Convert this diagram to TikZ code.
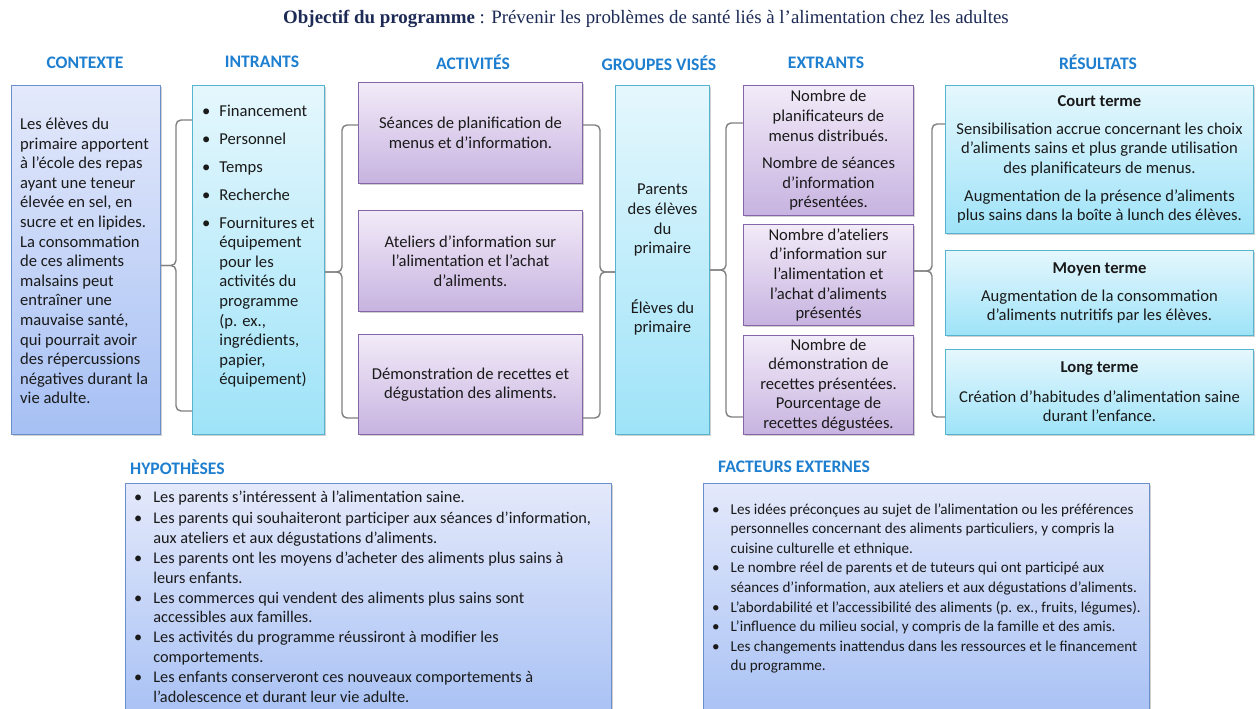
\documentclass[tikz,border=0pt]{standalone}
\usepackage{fontspec}
\setmainfont{Carlito}
\newfontfamily\titlefont{Liberation Serif}
\usetikzlibrary{shadows}
\definecolor{hdrblue}{HTML}{1E7FD0}
\definecolor{txt}{HTML}{1A1A1A}
\definecolor{titlecol}{HTML}{1C2A55}
\definecolor{bluetop}{HTML}{E4E9FB}
\definecolor{bluebot}{HTML}{A6C0F4}
\definecolor{blueline}{HTML}{6B8FCB}
\definecolor{cyantop}{HTML}{E5F7FD}
\definecolor{cyanbot}{HTML}{9EE3F8}
\definecolor{cyanline}{HTML}{55B4CE}
\definecolor{purtop}{HTML}{F2EBF8}
\definecolor{purbot}{HTML}{C7B3E0}
\definecolor{purline}{HTML}{8466A8}
\definecolor{bracegray}{HTML}{808080}
\newcommand{\bodyfont}{\fontsize{16.6}{19.6}\selectfont}
\newcommand{\smallbody}{\fontsize{16.3}{19.8}\selectfont}
\newcommand{\factfont}{\fontsize{15.1}{19.6}\selectfont}
\newcommand{\hdrfont}{\fontsize{17.6}{20}\selectfont\bfseries}
\newcommand{\brc}[7]{%
  \draw[brace] (#1 |- 0,#4) -- (#3,#4) -- (#3,#5) -- (#7 |- 0,#5);
  \draw[brace] (#7 |- 0,#5) -- (#3,#5) -- (#3,#6) -- (#2 |- 0,#6);}
\tikzset{
  box/.style={draw, line width=1pt, anchor=north west, inner sep=0pt,
    align=center, font=\bodyfont, text=txt,
    drop shadow={shadow xshift=1.5pt, shadow yshift=-1.5pt, opacity=0.3, fill=black!60}},
  bluebox/.style={box, draw=blueline, top color=bluetop, bottom color=bluebot},
  cyanbox/.style={box, draw=cyanline, top color=cyantop, bottom color=cyanbot},
  purbox/.style={box, draw=purline, top color=purtop, bottom color=purbot},
  hdr/.style={font=\hdrfont, text=hdrblue, inner sep=0pt},
  plain/.style={inner sep=0pt, text=txt},
  brace/.style={draw=bracegray, line width=1.4pt, rounded corners=5pt}
}
\begin{document}
\begin{tikzpicture}[x=1pt,y=-1pt]
\clip (0,0) rectangle (1256,709);
\fill[white] (0,0) rectangle (1256,709);

% title
\node[inner sep=0pt, text=titlecol, font=\titlefont\fontsize{18.9}{22}\selectfont] (title) at (646,19)
  {\textbf{Objectif du programme} : Prévenir les problèmes de santé liés à l’alimentation chez les adultes};

% headers
\node[hdr] (hctx) at (85,63) {CONTEXTE};
\node[hdr] (hint) at (262,62) {INTRANTS};
\node[hdr] (hact) at (473,62) {ACTIVITÉS};
\node[hdr] (hgrp) at (659,63) {GROUPES VISÉS};
\node[hdr] (hext) at (826,63) {EXTRANTS};
\node[hdr] (hres) at (1098,62) {RÉSULTATS};
\node[hdr, anchor=west] (hhyp) at (130,467) {HYPOTHÈSES};
\node[hdr, anchor=west] (hfac) at (718,467) {FACTEURS EXTERNES};

% contexte
\node[bluebox, minimum width=149pt, minimum height=349pt] (ctx) at (11,85) {};
\node[plain, anchor=west, align=left, font=\bodyfont] (ctxtxt) at ([xshift=9pt,yshift=-1pt]ctx.west)
  {Les élèves du\\ primaire apportent\\ à l’école des repas\\ ayant une teneur\\ élevée en sel, en\\
   sucre et en lipides.\\ La consommation\\ de ces aliments\\ malsains peut\\ entraîner une\\
   mauvaise santé,\\ qui pourrait avoir\\ des répercussions\\ négatives durant la\\ vie adulte.};

% intrants
\node[cyanbox, minimum width=132pt, minimum height=349pt] (intr) at (192,85) {};
\node[plain, anchor=base west, font=\bodyfont] (inttxt) at (202,117)
  {\begin{tabular}[t]{@{}l@{\hspace{9pt}}l@{}}
   \textbullet & Financement\\[8.2pt]
   \textbullet & Personnel\\[8.2pt]
   \textbullet & Temps\\[8.2pt]
   \textbullet & Recherche\\[8.2pt]
   \textbullet & Fournitures et\\
   & équipement\\ & pour les\\ & activités du\\ & programme\\ & (p. ex.,\\ & ingrédients,\\ & papier,\\ & équipement)
   \end{tabular}};

% activites
\node[purbox, minimum width=224pt, minimum height=101pt] (act1) at (358,82)
  {Séances de planification de\\ menus et d’information.};
\node[purbox, minimum width=224pt, minimum height=101pt] (act2) at (358,210)
  {Ateliers d’information sur\\ l’alimentation et l’achat\\ d’aliments.};
\node[purbox, minimum width=224pt, minimum height=100pt] (act3) at (358,334)
  {Démonstration de recettes et\\ dégustation des aliments.};

% groupes
\node[cyanbox, minimum width=94pt, minimum height=349pt] (grp) at (615,85)
  {Parents\\ des élèves\\ du\\ primaire\\[40pt] Élèves du\\ primaire};

% extrants
\node[purbox, minimum width=170pt, minimum height=130pt] (ext1) at (743,85)
  {Nombre de\\ planificateurs de\\ menus distribués.\\[8pt] Nombre de séances\\ d’information\\ présentées.};
\node[purbox, minimum width=170pt, minimum height=101pt] (ext2) at (743,224)
  {Nombre d’ateliers\\ d’information sur\\ l’alimentation et\\ l’achat d’aliments\\ présentés};
\node[purbox, minimum width=170pt, minimum height=99pt] (ext3) at (743,335)
  {Nombre de\\ démonstration de\\ recettes présentées.\\ Pourcentage de\\ recettes dégustées.};

% resultats
\node[cyanbox, minimum width=308pt, minimum height=148pt] (res1) at (945,85)
  {\textbf{Court terme}\\[8pt] Sensibilisation accrue concernant les choix\\ d’aliments sains et plus grande utilisation\\
   des planificateurs de menus.\\[8pt] Augmentation de la présence d’aliments\\ plus sains dans la boîte à lunch des élèves.};
\node[cyanbox, minimum width=308pt, minimum height=85pt] (res2) at (945,250)
  {\textbf{Moyen terme}\\[8pt] Augmentation de la consommation\\ d’aliments nutritifs par les élèves.};
\node[cyanbox, minimum width=308pt, minimum height=85pt] (res3) at (945,349)
  {\textbf{Long terme}\\[10pt] Création d’habitudes d’alimentation saine\\ durant l’enfance.};

% braces
\brc{intr.west}{intr.west}{176}{120}{265.5}{411}{ctx.east}
\brc{act1.west}{act3.west}{342}{125}{272}{418}{intr.east}
\brc{act1.east}{act3.east}{600}{125}{272}{418}{grp.west}
\brc{ext1.west}{ext3.west}{726}{123}{270}{417}{grp.east}
\brc{res1.west}{res3.west}{932}{124}{271}{417}{ext2.east}

% hypotheses
\node[bluebox, minimum width=486pt, minimum height=240pt] (hyp) at (125,483) {};
\node[plain, anchor=base west, font=\smallbody] (hyptxt) at (134,502)
  {\begin{tabular}[t]{@{}l@{\hspace{11pt}}l@{}}
   \textbullet & Les parents s’intéressent à l’alimentation saine.\\[2pt]
   \textbullet & Les parents qui souhaiteront participer aux séances d’information,\\
   & aux ateliers et aux dégustations d’aliments.\\
   \textbullet & Les parents ont les moyens d’acheter des aliments plus sains à\\
   & leurs enfants.\\
   \textbullet & Les commerces qui vendent des aliments plus sains sont\\
   & accessibles aux familles.\\
   \textbullet & Les activités du programme réussiront à modifier les\\
   & comportements.\\
   \textbullet & Les enfants conserveront ces nouveaux comportements à\\
   & l’adolescence et durant leur vie adulte.
   \end{tabular}};

% facteurs externes
\node[bluebox, minimum width=446pt, minimum height=240pt] (fac) at (703,483) {};
\node[plain, anchor=base west, font=\factfont] (factxt) at (712,514)
  {\begin{tabular}[t]{@{}l@{\hspace{11pt}}l@{}}
   \textbullet & Les idées préconçues au sujet de l’alimentation ou les préférences\\
   & personnelles concernant des aliments particuliers, y compris la\\
   & cuisine culturelle et ethnique.\\
   \textbullet & Le nombre réel de parents et de tuteurs qui ont participé aux\\
   & séances d’information, aux ateliers et aux dégustations d’aliments.\\
   \textbullet & L’abordabilité et l’accessibilité des aliments (p. ex., fruits, légumes).\\
   \textbullet & L’influence du milieu social, y compris de la famille et des amis.\\
   \textbullet & Les changements inattendus dans les ressources et le financement\\
   & du programme.
   \end{tabular}};
\end{tikzpicture}
\end{document}
